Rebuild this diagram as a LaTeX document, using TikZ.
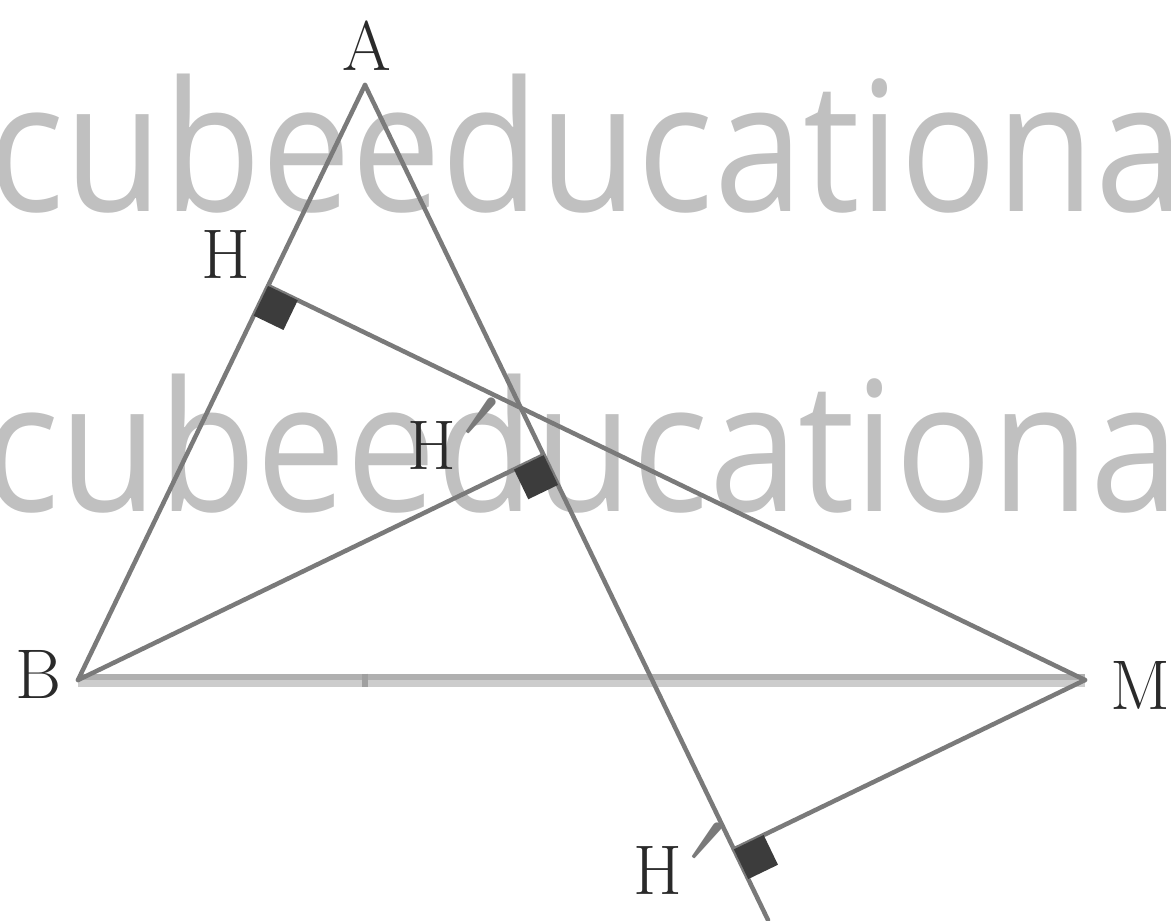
\documentclass[tikz,border=0pt]{standalone}
\usepackage{fontspec}
\newfontfamily\wmfont{Open Sans}
\usetikzlibrary{calc}
\definecolor{wm}{HTML}{C0C0C0}
\definecolor{ln}{HTML}{7A7A7A}
\definecolor{sq}{HTML}{3C3C3C}
\definecolor{lbl}{HTML}{2A2A2A}
\definecolor{bmtop}{HTML}{B0B0B0}
\definecolor{bmbot}{HTML}{CCCCCC}
\definecolor{tk}{HTML}{A0A0A0}
\newcommand{\bigprime}{\kern-2.3pt\textcolor{ln}{\raisebox{-0.06cm}{\rotatebox{-19}{\scalebox{1.6}{$'$}}}}}
\tikzset{
  seg/.style={draw=ln, line width=0.045cm, line cap=round},
  lab/.style={text=lbl, font=\fontsize{20}{24}\selectfont, inner sep=0pt},
  water/.style={text=wm, font=\wmfont\fontsize{51.5}{60}\selectfont, inner sep=0pt, anchor=base west},
  rightmark/.style={fill=sq},
}
\begin{document}
\begin{tikzpicture}
\clip (0,0) rectangle (11.71,9.2);
% watermark
\node[water] (w1) at (-0.12,7.08) {\scalebox{0.885}[1]{cubeeducational}};
\node[water] (w2) at (-0.17,4.08) {\scalebox{0.885}[1]{cubeeducational}};
% points
\coordinate (A) at (3.65,8.35);
\coordinate (B) at (0.78,2.40);
\coordinate (M) at (10.85,2.40);
\coordinate (E) at (7.68,0);
\coordinate (H) at ($(A)!(M)!(B)$);
\coordinate (Hp) at ($(A)!(B)!(E)$);
\coordinate (Hq) at ($(A)!(M)!(E)$);
\coordinate (T) at ($(B)!(A)!(M)$);
% base BM
\draw[draw=bmtop, line width=0.065cm, transform canvas={yshift=0.0325cm}] (B) -- (M);
\draw[draw=bmbot, line width=0.065cm, transform canvas={yshift=-0.0325cm}] (B) -- (M);
\draw[draw=tk, line width=0.06cm] ($(T)+(0,0.065)$) -- ($(T)+(0,-0.065)$);
% lines
\draw[seg] (A) -- (B);
\draw[seg] (A) -- (E);
\draw[seg] (H) -- (M);
\draw[seg] (B) -- (Hp);
\draw[seg] (M) -- (Hq);
% right angle marks
\coordinate (h1) at ($(H)!0.33cm!(B)$);
\coordinate (h2) at ($(H)!0.33cm!(M)$);
\fill[rightmark] (H) -- (h1) -- ($(h1)+(h2)-(H)$) -- (h2) -- cycle;
\coordinate (p1) at ($(Hp)!0.33cm!(B)$);
\coordinate (p2) at ($(Hp)!0.33cm!(E)$);
\fill[rightmark] (Hp) -- (p1) -- ($(p1)+(p2)-(Hp)$) -- (p2) -- cycle;
\coordinate (q1) at ($(Hq)!0.33cm!(M)$);
\coordinate (q2) at ($(Hq)!0.33cm!(E)$);
\fill[rightmark] (Hq) -- (q1) -- ($(q1)+(q2)-(Hq)$) -- (q2) -- cycle;
% labels
\node[lab] (lA) at (3.67,8.74) {A};
\node[lab] (lH) at (2.26,6.66) {H};
\node[lab, anchor=base west] (lHp) at (4.07,4.50) {H\bigprime};
\node[lab, anchor=base west] (lHq) at (6.33,0.25) {H\bigprime};
\node[lab] (lB) at (0.38,2.46) {B};
\node[lab] (lM) at (11.40,2.35) {M};
\end{tikzpicture}
\end{document}
